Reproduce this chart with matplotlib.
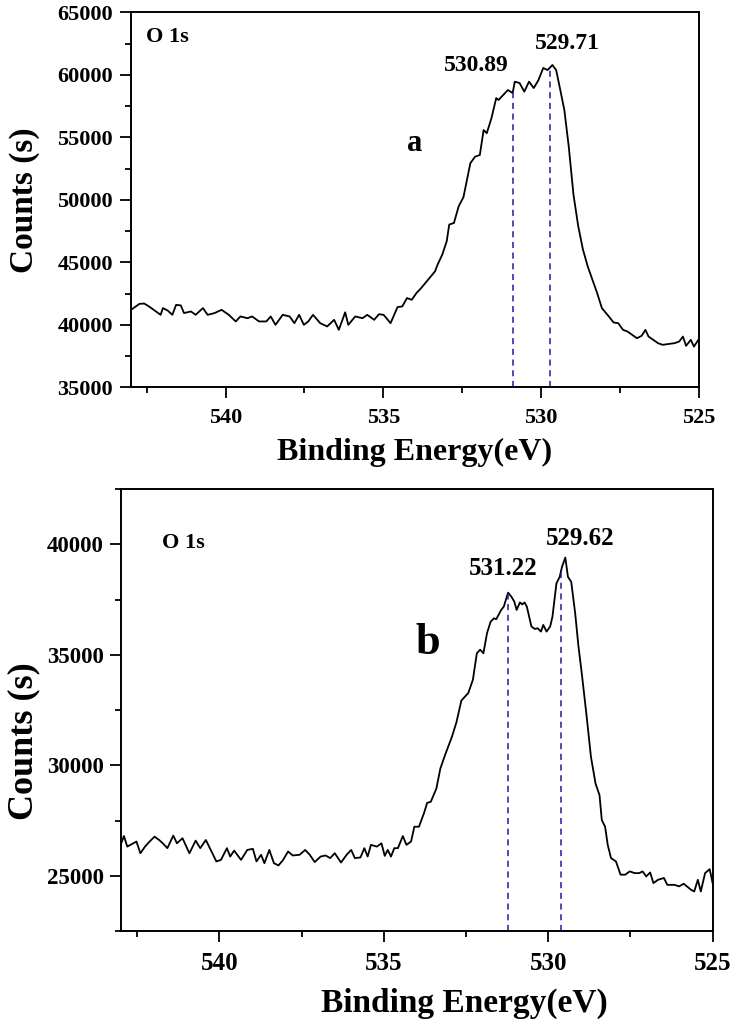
import matplotlib
matplotlib.use('Agg')
import matplotlib.pyplot as plt
from matplotlib.ticker import MultipleLocator
import numpy as np

# O 1s spectrum, sample a
energy_a = [
    543.00, 542.73, 542.58, 542.43, 542.21, 542.06, 541.99, 541.84, 541.69, 541.57,
    541.42, 541.32, 541.10, 540.95, 540.72, 540.57, 540.35, 540.13, 539.90, 539.68,
    539.53, 539.31, 539.16, 538.94, 538.71, 538.57, 538.42, 538.19, 537.97, 537.82,
    537.67, 537.52, 537.38, 537.23, 537.00, 536.78, 536.56, 536.41, 536.21, 536.11,
    535.89, 535.66, 535.51, 535.29, 535.14, 534.99, 534.77, 534.55, 534.40, 534.25,
    534.10, 533.95, 533.80, 533.58, 533.36, 533.28, 533.13, 532.99, 532.91, 532.76,
    532.61, 532.46, 532.24, 532.09, 531.94, 531.82, 531.72, 531.57, 531.42, 531.35,
    531.20, 531.05, 530.90, 530.83, 530.68, 530.53, 530.38, 530.23, 530.08, 529.93,
    529.79, 529.64, 529.52, 529.41, 529.26, 529.12, 528.97, 528.82, 528.67, 528.52,
    528.37, 528.22, 528.07, 527.85, 527.70, 527.55, 527.40, 527.26, 527.11, 526.96,
    526.81, 526.69, 526.59, 526.44, 526.29, 526.14, 525.92, 525.77, 525.62, 525.50,
    525.40, 525.25, 525.15, 525.01,
]
counts_a = [
    41200, 41680, 41700, 41470, 41070, 40800, 41340, 41150, 40800, 41600,
    41550, 40940, 41070, 40800, 41340, 40800, 40940, 41200, 40800, 40270,
    40670, 40530, 40670, 40270, 40270, 40670, 40000, 40800, 40670, 40130,
    40800, 40000, 40270, 40800, 40130, 39870, 40400, 39600, 41000, 40000,
    40670, 40530, 40800, 40400, 40850, 40800, 40130, 41420, 41470, 42140,
    42000, 42540, 42940, 43610, 44280, 44810, 45620, 46680, 48020, 48150,
    49490, 50200, 52930, 53450, 53580, 55580, 55330, 56540, 58140, 57980,
    58380, 58780, 58540, 59450, 59340, 58650, 59450, 58940, 59580, 60540,
    60380, 60780, 60380, 59050, 57180, 54250, 50400, 47890, 46020, 44680,
    43610, 42540, 41340, 40670, 40190, 40130, 39600, 39470, 39200, 38930,
    39120, 39600, 39060, 38800, 38530, 38400, 38480, 38530, 38660, 39060,
    38320, 38800, 38260, 38800,
]

# O 1s spectrum, sample b
energy_b = [
    543.00, 542.90, 542.80, 542.62, 542.52, 542.40, 542.26, 542.12, 541.97, 541.83,
    541.72, 541.58, 541.40, 541.29, 541.12, 540.91, 540.72, 540.58, 540.41, 540.26,
    540.09, 539.95, 539.77, 539.67, 539.55, 539.34, 539.15, 538.98, 538.87, 538.73,
    538.63, 538.48, 538.34, 538.20, 538.06, 537.91, 537.77, 537.56, 537.39, 537.25,
    537.10, 536.92, 536.77, 536.63, 536.49, 536.30, 536.13, 535.99, 535.88, 535.71,
    535.59, 535.49, 535.39, 535.21, 535.07, 534.97, 534.88, 534.78, 534.68, 534.57,
    534.42, 534.31, 534.17, 534.07, 533.93, 533.78, 533.68, 533.57, 533.40, 533.28,
    533.14, 532.93, 532.79, 532.64, 532.43, 532.29, 532.17, 532.07, 531.97, 531.86,
    531.75, 531.65, 531.58, 531.43, 531.35, 531.22, 531.12, 531.03, 530.96, 530.86,
    530.79, 530.72, 530.65, 530.51, 530.41, 530.32, 530.22, 530.15, 530.05, 529.94,
    529.87, 529.75, 529.65, 529.58, 529.48, 529.40, 529.30, 529.18, 529.08, 528.98,
    528.84, 528.70, 528.56, 528.44, 528.37, 528.27, 528.19, 528.09, 527.94, 527.80,
    527.66, 527.52, 527.37, 527.23, 527.13, 527.02, 526.90, 526.80, 526.66, 526.48,
    526.38, 526.16, 526.02, 525.88, 525.66, 525.56, 525.45, 525.36, 525.23, 525.09,
    525.00,
]
counts_b = [
    26400, 26800, 26320, 26470, 26550, 26020, 26320, 26550, 26770, 26620,
    26470, 26250, 26820, 26470, 26700, 26020, 26590, 26250, 26620, 26170,
    25650, 25720, 26250, 25870, 26140, 25720, 26170, 26220, 25650, 25950,
    25570, 26170, 25570, 25470, 25720, 26100, 25920, 25950, 26170, 25950,
    25620, 25870, 25920, 25800, 26020, 25600, 25950, 26170, 25800, 25830,
    26250, 25870, 26400, 26320, 26470, 25900, 26170, 25870, 26250, 26250,
    26800, 26400, 26550, 27220, 27220, 27820, 28300, 28350, 28950, 29850,
    30450, 31280, 31950, 32930, 33270, 33870, 35070, 35230, 35070, 35980,
    36500, 36650, 36610, 37030, 37180, 37810, 37630, 37400, 37030, 37370,
    37280, 37370, 37180, 36280, 36170, 36200, 36050, 36350, 36050, 36280,
    36730, 38230, 38530, 38980, 39400, 38530, 38300, 36880, 35380, 34170,
    32330, 30380, 29170, 28650, 27520, 27220, 26400, 25800, 25650, 25050,
    25050, 25200, 25120, 25120, 25200, 24970, 25150, 24670, 24820, 24900,
    24590, 24590, 24520, 24640, 24370, 24290, 24820, 24290, 25120, 25300,
    24670,
]

peaks_a = [530.89, 529.71]
peaks_b = [531.22, 529.62]

FONT = 'Liberation Serif'


def style_axes(ax, ylim, tick_x, tick_y, ypad):
    ax.set_xlim(543, 525)
    ax.set_ylim(*ylim)
    ax.xaxis.set_major_locator(MultipleLocator(5))
    ax.xaxis.set_minor_locator(MultipleLocator(2.5))
    ax.yaxis.set_major_locator(MultipleLocator(5000))
    ax.yaxis.set_minor_locator(MultipleLocator(2500))
    ax.tick_params(which='both', direction='out', top=False, right=False, width=1.3)
    ax.tick_params(which='major', length=8)
    ax.tick_params(which='minor', length=4.5)
    ax.tick_params(axis='x', which='major', pad=7, labelsize=tick_x)
    ax.tick_params(axis='y', which='major', pad=ypad, labelsize=tick_y)
    for lab in ax.get_xticklabels() + ax.get_yticklabels():
        lab.set_fontfamily(FONT)
        lab.set_fontweight('bold')
    for sp in ax.spines.values():
        sp.set_linewidth(1.4)


def draw_peaks(ax, energy, counts, peaks, ymin):
    e = np.array(energy)[::-1]
    c = np.array(counts)[::-1]
    for p in peaks:
        top = np.interp(p, e, c)
        ax.plot([p, p], [ymin, top], color='#1c1c9c', lw=1.1, ls=(0, (4, 3)))


fig = plt.figure(figsize=(7.34, 10.22), dpi=100)

# panel a
ax1 = fig.add_axes([0.1785, 0.621, 0.7734, 0.367])
ax1.plot(energy_a, counts_a, color='black', lw=1.3)
style_axes(ax1, (35000, 65000), 16, 16, 5)
draw_peaks(ax1, energy_a, counts_a, peaks_a, 35000)
ax1.set_xlabel('Binding Energy(eV)', fontfamily=FONT, fontweight='bold', fontsize=23)
ax1.xaxis.set_label_coords(0.5, -0.135)
ax1.set_ylabel('Counts (s)', fontfamily=FONT, fontweight='bold', fontsize=24)
ax1.yaxis.set_label_coords(-0.16, 0.5)
ax1.text(0.026, 0.934, 'O 1s', transform=ax1.transAxes, fontfamily=FONT,
         fontweight='bold', fontsize=16, ha='left', va='center')
ax1.text(0.608, 0.857, '530.89', transform=ax1.transAxes, fontfamily=FONT,
         fontweight='bold', fontsize=17, ha='center', va='center')
ax1.text(0.768, 0.918, '529.71', transform=ax1.transAxes, fontfamily=FONT,
         fontweight='bold', fontsize=17, ha='center', va='center')
ax1.text(0.50, 0.651, 'a', transform=ax1.transAxes, fontfamily=FONT,
         fontweight='bold', fontsize=22, ha='center', va='center')

# panel b
ax2 = fig.add_axes([0.1644, 0.089, 0.8065, 0.4325])
ax2.plot(energy_b, counts_b, color='black', lw=1.3)
style_axes(ax2, (22500, 42500), 18, 16.5, 4)
draw_peaks(ax2, energy_b, counts_b, peaks_b, 22500)
ax2.set_xlabel('Binding Energy(eV)', fontfamily=FONT, fontweight='bold', fontsize=24)
ax2.xaxis.set_label_coords(0.58, -0.128)
ax2.set_ylabel('Counts (s)', fontfamily=FONT, fontweight='bold', fontsize=26)
ax2.yaxis.set_label_coords(-0.135, 0.43)
ax2.text(0.070, 0.878, 'O 1s', transform=ax2.transAxes, fontfamily=FONT,
         fontweight='bold', fontsize=16, ha='left', va='center')
ax2.text(0.646, 0.821, '531.22', transform=ax2.transAxes, fontfamily=FONT,
         fontweight='bold', fontsize=18, ha='center', va='center')
ax2.text(0.777, 0.889, '529.62', transform=ax2.transAxes, fontfamily=FONT,
         fontweight='bold', fontsize=18, ha='center', va='center')
ax2.text(0.519, 0.652, 'b', transform=ax2.transAxes, fontfamily=FONT,
         fontweight='bold', fontsize=32, ha='center', va='center')

fig.savefig('out.png', dpi=100)
